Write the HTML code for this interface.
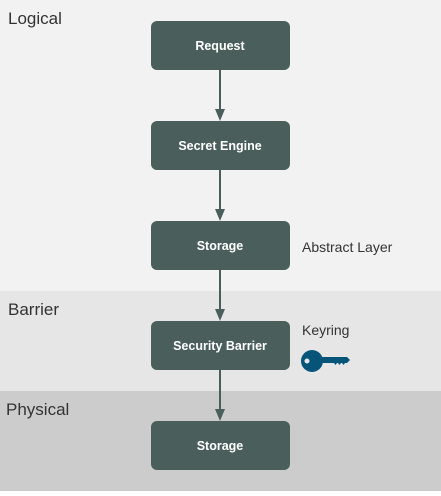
<!DOCTYPE html><html><head><style>body{margin:0;width:441px;height:491px;overflow:hidden;font-family:"Liberation Sans",sans-serif}</style></head><body>
<svg width="441" height="491" xmlns="http://www.w3.org/2000/svg" font-family="Liberation Sans, sans-serif">
<rect x="0" y="0" width="441" height="291" fill="#f2f2f2"/>
<rect x="0" y="291" width="441" height="100" fill="#e6e6e6"/>
<rect x="0" y="391" width="441" height="100" fill="#cccccc"/>
<text x="8" y="24" font-size="17" fill="#333">Logical</text>
<text x="8" y="315" font-size="17" fill="#333">Barrier</text>
<text x="6" y="415" font-size="17" fill="#333">Physical</text>
<g fill="#4a5f5b">
<rect x="151" y="21" width="139" height="49" rx="6"/>
<rect x="151" y="121" width="139" height="49" rx="6"/>
<rect x="151" y="221" width="139" height="49" rx="6"/>
<rect x="151" y="321" width="139" height="49" rx="6"/>
<rect x="151" y="421" width="139" height="49" rx="6"/>
</g>
<g fill="#fff" font-size="12.5" font-weight="bold" text-anchor="middle">
<text x="220" y="50">Request</text>
<text x="220" y="150">Secret Engine</text>
<text x="220" y="250">Storage</text>
<text x="220" y="350">Security Barrier</text>
<text x="220" y="450">Storage</text>
</g>
<g stroke="#4a5f5b" stroke-width="2">
<line x1="220" y1="70" x2="220" y2="110"/><line x1="220" y1="170" x2="220" y2="210"/><line x1="220" y1="270" x2="220" y2="310"/><line x1="220" y1="370" x2="220" y2="410"/>
</g>
<g fill="#4a5f5b">
<path d="M215 109h10l-5 12z"/><path d="M215 209h10l-5 12z"/><path d="M215 309h10l-5 12z"/><path d="M215 409h10l-5 12z"/>
</g>
<text x="302" y="252" font-size="14" fill="#333">Abstract Layer</text>
<text x="302" y="335" font-size="14" fill="#333">Keyring</text>
<g fill="#05547a">
<circle cx="312" cy="361" r="11"/>
<path d="M318 357h29l3 3-3 3h-2l-1.5 2-1.5-2h-1l-1.5 2-1.5-2h-1l-1.5 2-1.5-2h-17z"/>
</g>
<circle cx="307" cy="361" r="2.5" fill="#e6e6e6"/>
</svg></body></html>
